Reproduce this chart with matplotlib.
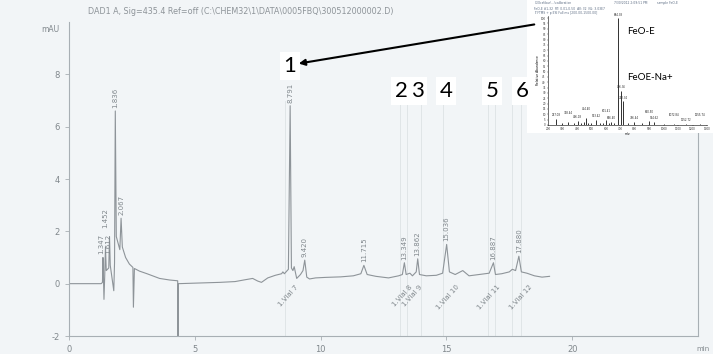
import matplotlib
matplotlib.use("Agg")
import matplotlib.pyplot as plt
from matplotlib.patches import FancyArrowPatch

# ---------------- chromatogram data (time min, signal mAU) ----------------
trace_time = [0.00, 1.28, 1.33, 1.35, 1.37, 1.39, 1.42, 1.45, 1.48, 1.58, 1.61, 1.64,
              1.78, 1.81, 1.84, 1.88, 2.02, 2.07, 2.12, 2.25, 2.40, 2.54, 2.56, 2.60,
              2.80, 3.10, 3.60, 4.00, 4.32, 4.33, 4.35, 5.00, 6.00, 6.60, 7.00, 7.30,
              7.50, 7.65, 7.90, 8.20, 8.45, 8.50, 8.56, 8.72, 8.79, 8.84, 8.90, 8.95,
              9.05, 9.20, 9.30, 9.37, 9.45, 9.56, 9.80, 10.20, 10.80, 11.30, 11.60,
              11.72, 11.85, 12.20, 12.70, 13.10, 13.25, 13.33, 13.40, 13.55, 13.65,
              13.80, 13.86, 13.93, 14.20, 14.60, 14.85, 15.01, 15.12, 15.35, 15.65,
              15.90, 16.30, 16.70, 16.87, 16.95, 17.20, 17.50, 17.62, 17.75, 17.88,
              17.98, 18.20, 18.50, 18.80, 19.10]
trace_mau = [0.00, 0.00, 0.05, 1.00, 0.20, -0.60, 0.30, 1.40, 0.50, 0.60, 1.80, 0.70,
             -0.27, 0.80, 6.60, 1.80, 1.30, 2.50, 1.40, 1.00, 0.75, 0.62, -0.90, 0.58,
             0.48, 0.38, 0.20, 0.14, 0.11, -2.05, 0.00, 0.02, 0.05, 0.08, 0.15, 0.20,
             0.10, 0.05, 0.22, 0.32, 0.38, 0.45, 0.38, 0.55, 6.80, 0.60, 0.50, 0.65,
             0.20, 0.35, 0.50, 0.90, 0.25, 0.18, 0.22, 0.24, 0.26, 0.30, 0.38,
             0.70, 0.35, 0.28, 0.22, 0.30, 0.35, 0.80, 0.35, 0.40, 0.30,
             0.45, 0.95, 0.35, 0.30, 0.32, 0.40, 1.50, 0.45, 0.35, 0.50,
             0.30, 0.35, 0.40, 0.80, 0.35, 0.38, 0.45, 0.55, 0.50, 1.05,
             0.45, 0.40, 0.30, 0.25, 0.28]

rt_labels = ["1.347", "1.452", "1.612", "1.836", "2.067", "8.791", "9.420", "11.715",
             "13.349", "13.862", "15.036", "16.887", "17.880"]
rt_label_time = [1.30, 1.43, 1.56, 1.84, 2.07, 8.79, 9.37, 11.72, 13.33, 13.86, 15.01, 16.87, 17.88]
rt_label_mau = [1.00, 2.00, 1.00, 6.60, 2.50, 6.80, 0.90, 0.70, 0.80, 0.95, 1.50, 0.80, 1.05]

vial_labels = ["1.Vial 7", "1.Vial 8", "1.Vial 9", "1.Vial 10", "1.Vial 11", "1.Vial 12"]
vial_time = [9.05, 13.60, 14.00, 15.45, 17.10, 18.35]

event_time = [8.57, 13.15, 13.45, 14.00, 14.85, 16.65, 16.92, 17.60, 17.95]

y_ticks = [-2, 0, 2, 4, 6, 8]
x_ticks = [0, 5, 10, 15, 20]

peak_numbers = ["1", "2", "3", "4", "5", "6"]

# ---------------- mass spectrum (inset) ----------------
ms_mz = [257, 300, 338, 380, 406, 430, 450, 464, 480, 500, 533, 560, 580, 601, 620,
         636, 660, 684, 706, 722, 750, 796, 850, 900, 934, 1000, 1072, 1152, 1255]
ms_rel = [6, 2, 3, 1.5, 4, 2, 2.5, 7, 2, 1.5, 5, 2, 2, 5, 1.5,
          3, 2, 100, 32, 22, 1.5, 3, 1.5, 4, 3, 1, 1, 1, 1]
ms_peak_labels = {257: "257.08", 338: "338.44", 406: "406.18", 464: "464.40",
                  533: "533.42", 601: "601.41", 636: "636.40", 684: "684.38",
                  706: "706.36", 722: "722.34", 796: "796.44", 900: "900.50",
                  934: "934.62", 1072: "1072.84", 1152: "1152.72", 1255: "1255.74"}
ms_x_ticks = [200, 300, 400, 500, 600, 700, 800, 900, 1000, 1100, 1200, 1300]
ms_y_ticks = list(range(0, 101, 5))

# ---------------- figure ----------------
W, H = 713, 354
fig = plt.figure(figsize=(W / 100, H / 100), dpi=100)
bg = "#f2f5f7"
fig.patch.set_facecolor(bg)

def fx(px):
    return px / W

def fy(py):
    return 1 - py / H

ax = fig.add_axes([fx(69), fy(336), fx(698) - fx(69), fy(22) - fy(336)])
ax.set_facecolor(bg)
ax.set_xlim(0, 25)
ax.set_ylim(-2, 10)

for t in event_time:
    ax.plot([t, t], [-2, 7], color="#dde2e5", lw=0.6, zorder=1)

ax.plot(trace_time, trace_mau, color="#8e9499", lw=0.8, zorder=2)

for lab, t, v in zip(rt_labels, rt_label_time, rt_label_mau):
    ax.text(t, v + 0.12, lab, rotation=90, ha="center", va="bottom",
            fontsize=5.0, color="#80878c", zorder=3)

for lab, t in zip(vial_labels, vial_time):
    ax.text(t, -0.08, lab, rotation=48, rotation_mode="anchor", ha="right",
            va="center", fontsize=5.0, color="#80878c", zorder=3)

ax.spines["top"].set_visible(False)
for s in ["left", "bottom", "right"]:
    ax.spines[s].set_color("#a8afb4")
    ax.spines[s].set_linewidth(0.8)

ax.set_yticks(y_ticks)
ax.set_yticklabels([str(v) for v in y_ticks])
ax.set_xticks(x_ticks)
ax.set_xticklabels([str(v) for v in x_ticks])
ax.tick_params(axis="both", labelsize=6, colors="#a8afb4", labelcolor="#80878c",
               length=3, width=0.6)

fig.text(fx(50), fy(30), "mAU", fontsize=5.5, color="#80878c", ha="center", va="center")
fig.text(fx(703), fy(349), "min", fontsize=5, color="#80878c", ha="center", va="center")
fig.text(fx(88), fy(12), r"DAD1 A, Sig=435.4 Ref=off (C:\CHEM32\1\DATA\0005FBQ\300512000002.D)",
         fontsize=5.8, color="#8e9499", ha="left", va="center")

# ---------------- inset: mass spectrum ----------------
ax_bg = fig.add_axes([fx(527), fy(133), fx(713) - fx(527), fy(0) - fy(133)])
ax_bg.set_facecolor("white")
ax_bg.set_xticks([])
ax_bg.set_yticks([])
for s in ax_bg.spines.values():
    s.set_visible(False)
hc = "#5b6b82"
ax_bg.text(0.04, 0.975, r"C:\Xcalibur\...\calibration", fontsize=2.2, color=hc,
           transform=ax_bg.transAxes, va="center")
ax_bg.text(0.47, 0.975, "7/30/2012 2:09:51 PM", fontsize=2.2, color=hc,
           transform=ax_bg.transAxes, va="center")
ax_bg.text(0.70, 0.975, "sample FeO-E", fontsize=2.2, color=hc,
           transform=ax_bg.transAxes, va="center")
ax_bg.text(0.04, 0.93, "FeO-E #1-32  RT: 0.01-0.50  AV: 32  NL: 3.03E7", fontsize=2.2,
           color=hc, transform=ax_bg.transAxes, va="center")
ax_bg.text(0.04, 0.905, "T: FTMS + p ESI Full ms [200.00-1500.00]", fontsize=2.2,
           color=hc, transform=ax_bg.transAxes, va="center")

ax_ms = fig.add_axes([fx(548), fy(125), fx(707) - fx(548), fy(16) - fy(125)])
ax_ms.set_facecolor("white")
ax_ms.vlines(ms_mz, 0, ms_rel, color="#111111", lw=0.6)
k = 0
for mz, rel in zip(ms_mz, ms_rel):
    if mz in ms_peak_labels:
        off = 1.5 if (k % 2 == 0 or rel > 10) else 6.5
        ax_ms.text(mz, rel + off, ms_peak_labels[mz], fontsize=1.9, ha="center",
                   va="bottom", color="#222222")
        k += 1
ax_ms.set_xlim(200, 1300)
ax_ms.set_ylim(0, 102)
ax_ms.set_xticks(ms_x_ticks)
ax_ms.set_yticks(ms_y_ticks)
ax_ms.tick_params(labelsize=2, length=1, width=0.3, pad=0.6, colors="#333333")
ax_ms.set_xlabel("m/z", fontsize=2.2, labelpad=0.5)
ax_ms.set_ylabel("Relative Abundance", fontsize=2.2, labelpad=0.8)
for s in ["top", "right"]:
    ax_ms.spines[s].set_visible(False)
for s in ["left", "bottom"]:
    ax_ms.spines[s].set_linewidth(0.4)

fig.text(fx(627), fy(31), "FeO-E", fontsize=7, family="Lato", color="black", ha="left", va="center")
fig.text(fx(627), fy(77), "FeOE-Na+", fontsize=7, family="Lato", color="black", ha="left", va="center")

# ---------------- peak numbers and arrow ----------------
num_x = [290, 401, 417, 446, 492, 522]
num_y = [66, 91, 91, 91, 91, 91]
for lab, px, py in zip(peak_numbers, num_x, num_y):
    fig.text(fx(px), fy(py), lab, fontsize=16, family="Lato", color="black",
             ha="center", va="center",
             bbox=dict(facecolor="white", edgecolor="none", pad=2.5))

arrow = FancyArrowPatch((fx(537), fy(24)), (fx(296), fy(64)), transform=fig.transFigure,
                        arrowstyle="-|>", mutation_scale=9, lw=1.5, color="black", zorder=10)
fig.add_artist(arrow)

fig.savefig("out.png", dpi=100, facecolor=fig.get_facecolor())
